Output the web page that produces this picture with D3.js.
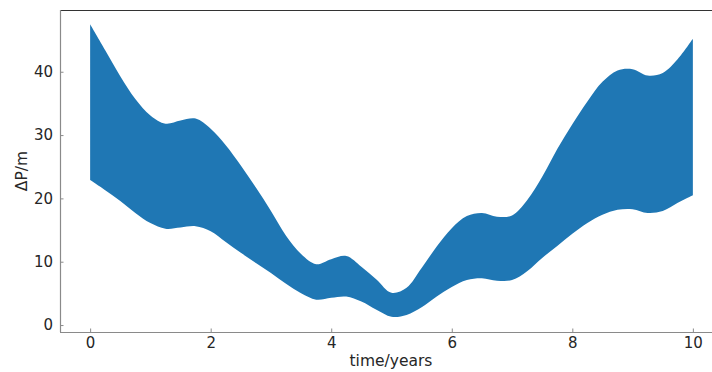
<!DOCTYPE html>
<html>
<head>
<meta charset="utf-8">
<script src="https://cdn.jsdelivr.net/npm/d3@7"></script>
<style>
  html, body { margin: 0; padding: 0; background: #ffffff; }
  svg { display: block; font-family: "DejaVu Sans", sans-serif; }
</style>
</head>
<body>
<svg id="chart" width="712" height="372"></svg>
<script>
// Sample times (years)
const times = [0, 0.25, 0.5, 0.75, 1, 1.25, 1.5, 1.75, 2, 2.25, 2.5, 2.75, 3, 3.25, 3.5, 3.75,
  4, 4.25, 4.5, 4.75, 5, 5.25, 5.5, 5.75, 6, 6.25, 6.5, 6.75, 7, 7.25, 7.5, 7.75,
  8, 8.25, 8.5, 8.75, 9, 9.25, 9.5, 9.75, 10];

// Upper envelope of the rapidly oscillating ΔP signal (m)
const upperP = [47.5, 43.4, 39.3, 35.7, 33.1, 31.8, 32.3, 32.6, 31.0, 28.4, 25.2, 21.7, 18.0, 14.1, 11.2, 9.6,
  10.4, 10.9, 9.2, 7.2, 5.1, 5.9, 9.0, 12.4, 15.3, 17.2, 17.7, 17.1, 17.3, 19.7, 23.4, 27.8,
  31.7, 35.3, 38.4, 40.2, 40.4, 39.4, 39.8, 42.0, 45.2];

// Lower envelope of the same signal (m)
const lowerP = [22.9, 21.3, 19.6, 17.7, 16.1, 15.2, 15.4, 15.6, 14.8, 13.1, 11.4, 9.8, 8.2, 6.5, 5.0, 4.0,
  4.3, 4.5, 3.7, 2.4, 1.3, 1.6, 2.8, 4.5, 6.0, 7.1, 7.4, 7.0, 7.1, 8.5, 10.6, 12.5,
  14.4, 16.1, 17.4, 18.2, 18.3, 17.7, 18.0, 19.3, 20.5];

// Axis ticks
const xTicks = [0, 2, 4, 6, 8, 10];
const yTicks = [0, 10, 20, 30, 40];

const svg = d3.select("#chart");

const x = d3.scaleLinear().domain([-0.5, 10.5]).range([60, 723]);
const y = d3.scaleLinear().domain([-1.1, 49.75]).range([332, 10]);

const band = times.map((t, i) => ({ t, hi: upperP[i], lo: lowerP[i] }));

const area = d3.area()
  .x(d => x(d.t))
  .y0(d => y(d.lo))
  .y1(d => y(d.hi))
  .curve(d3.curveCatmullRom.alpha(0.5));

svg.append("path")
  .datum(band)
  .attr("d", area)
  .attr("fill", "#1f77b4");

// Axes with inward ticks
const xAxis = svg.append("g")
  .attr("transform", "translate(0,332)")
  .call(d3.axisBottom(x).tickValues(xTicks).tickFormat(d3.format("d")).tickSize(-3.5).tickPadding(5.5));
const yAxis = svg.append("g")
  .attr("transform", "translate(60,0)")
  .call(d3.axisLeft(y).tickValues(yTicks).tickFormat(d3.format("d")).tickSize(-3.5).tickPadding(7));

[xAxis, yAxis].forEach(g => {
  g.select(".domain").remove();
  g.selectAll(".tick line").attr("stroke", "#8a8a8a").attr("stroke-width", 1);
  g.selectAll(".tick text")
    .attr("fill", "#262626")
    .style("font-family", "DejaVu Sans, sans-serif")
    .style("font-size", "15px");
});

// Frame lines
svg.append("line").attr("x1", 60).attr("x2", 712).attr("y1", 10.5).attr("y2", 10.5)
  .attr("stroke", "#333333").attr("stroke-width", 1);
svg.append("line").attr("x1", 60.5).attr("x2", 60.5).attr("y1", 10).attr("y2", 332)
  .attr("stroke", "#8a8a8a").attr("stroke-width", 1.2);
svg.append("line").attr("x1", 60).attr("x2", 712).attr("y1", 332.5).attr("y2", 332.5)
  .attr("stroke", "#8a8a8a").attr("stroke-width", 1.2);

// Axis titles
svg.append("text")
  .attr("x", 391).attr("y", 366)
  .attr("text-anchor", "middle")
  .attr("fill", "#262626")
  .style("font-size", "15.5px")
  .text("time/years");

svg.append("text")
  .attr("transform", "translate(27,171) rotate(-90)")
  .attr("text-anchor", "middle")
  .attr("fill", "#262626")
  .style("font-size", "15.5px")
  .text("ΔP/m");
</script>
</body>
</html>
